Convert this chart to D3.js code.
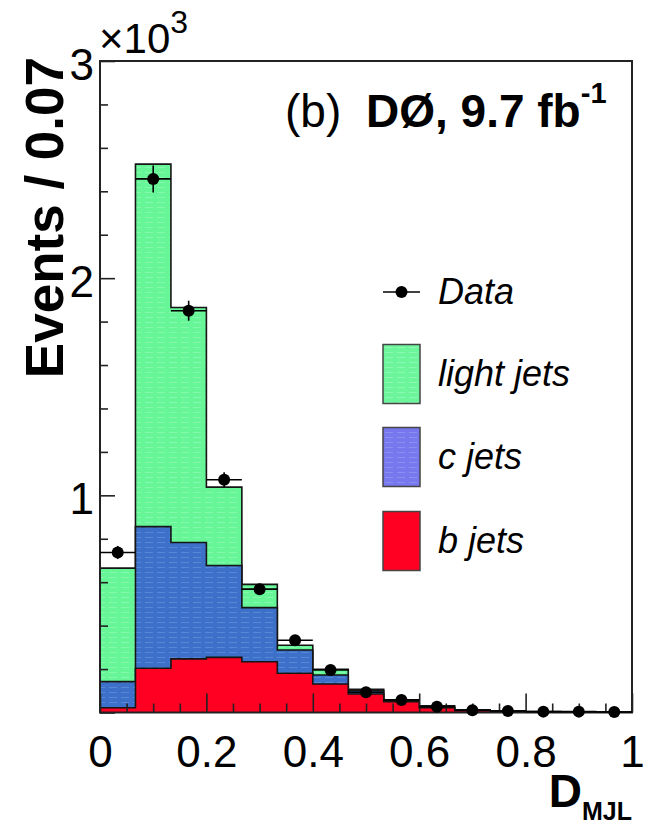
<!DOCTYPE html>
<html>
<head>
<meta charset="utf-8">
<script src="https://cdn.jsdelivr.net/npm/d3@7"></script>
<style>
  html, body { margin: 0; padding: 0; background: #fff; }
  svg { display: block; font-family: "Liberation Sans", Arial, Helvetica, sans-serif; }
</style>
</head>
<body>
<svg id="chart" width="654" height="825"></svg>
<script>
// ---- D_MJL distribution: 15 bins on [0, 1] ----
const nBins = 15;
const xRange = [0, 1];

// Observed events per bin
const dataCounts = [737, 2457, 1850, 1072, 568, 333, 196, 93, 58, 27, 10, 7, 4, 4, 2];
const dataErrors = [30, 62, 46, 34, 25, 19, 14, 10, 8, 5, 3, 3, 2, 2, 2];

// Simulated flavour components (events per bin)
const bJets     = [22, 204, 247, 254, 234, 181, 131, 85, 50, 22, 10, 5, 2, 1, 1];
const cJets     = [120, 652, 536, 423, 249, 107, 42, 15, 5, 3, 1, 0, 0, 0, 0];
const lightJets = [523, 1669, 1082, 361, 107, 22, 26, 7, 3, 6, 2, 2, 2, 2, 1];

// Axis ticks
const xMajorTicks = [0, 0.2, 0.4, 0.6, 0.8, 1];
const xTickLabels = ["0", "0.2", "0.4", "0.6", "0.8", "1"];
const yMajorTicks = [0, 1000, 2000, 3000];
const yTickLabels = ["", "1", "2", "3"];

const legendLabels = ["Data", "light jets", "c jets", "b jets"];

// ---- layout ----
const plot = { left: 100, right: 632, top: 61, bottom: 712.5 };

const svg = d3.select("#chart");
const x = d3.scaleLinear().domain(xRange).range([plot.left, plot.right]);
const y = d3.scaleLinear().domain([0, 3000]).range([plot.bottom, plot.top]);

const edges = d3.range(nBins + 1).map(i => xRange[0] + (xRange[1] - xRange[0]) * i / nBins);

// ---- hatched-look fills ----
const defs = svg.append("defs");
function addPattern(id, base, dash) {
  const p = defs.append("pattern").attr("id", id)
    .attr("patternUnits", "userSpaceOnUse").attr("width", 12).attr("height", 5);
  p.append("rect").attr("width", 12).attr("height", 5).attr("fill", base);
  p.append("line").attr("x1", 1).attr("x2", 9).attr("y1", 2.5).attr("y2", 2.5)
    .attr("stroke", dash).attr("stroke-width", 1).attr("opacity", 0.55);
}
addPattern("fillLight", "#66f597", "#9dfcc0");
addPattern("fillC", "#3d71c9", "#6c98e0");
addPattern("fillB", "#ff0022", "#ff0022");
addPattern("legLight", "#6cf59b", "#a4fcc6");
addPattern("legC", "#7878ee", "#a0a0f6");
addPattern("legB", "#ff0022", "#ff0022");

// ---- stacked simulation ----
const table = d3.range(nBins).map(i => ({ b: bJets[i], c: cJets[i], light: lightJets[i] }));
const series = d3.stack().keys(["b", "c", "light"])(table);
const fills = { b: "url(#fillB)", c: "url(#fillC)", light: "url(#fillLight)" };

const area = d3.area()
  .x(p => x(p.e)).y0(y(0)).y1(p => y(p.v))
  .curve(d3.curveStepAfter);
const outline = d3.line()
  .x(p => x(p.e)).y(p => y(p.v))
  .curve(d3.curveStepAfter);

const stackG = svg.append("g");
// cumulative histograms drawn from the largest down
series.slice().reverse().forEach(s => {
  const tops = s.map(d => d[1]);
  const pts = tops.map((v, i) => ({ e: edges[i], v }));
  pts.push({ e: edges[nBins], v: tops[nBins - 1] });
  stackG.append("path").attr("d", area(pts)).attr("fill", fills[s.key]);
  const linePts = [{ e: edges[0], v: 0 }].concat(pts, [{ e: edges[nBins], v: 0 }]);
  stackG.append("path").attr("d", outline(linePts))
    .attr("fill", "none").attr("stroke", "#151515").attr("stroke-width", 1.6);
});

// ---- axes ----
const xMinor = d3.range(0, 21).map(i => i * 0.05).filter(v => !xMajorTicks.some(m => Math.abs(m - v) < 1e-9));
const yMinor = d3.range(0, 16).map(i => i * 200).filter(v => v % 1000 !== 0);

const axX = svg.append("g").attr("transform", `translate(0,${plot.bottom})`)
  .call(d3.axisBottom(x).tickValues(xMajorTicks).tickSize(-19).tickPadding(23)
    .tickFormat((d, i) => xTickLabels[i]));
axX.append("g").call(d3.axisBottom(x).tickValues(xMinor).tickSize(-9).tickFormat(""));

const axY = svg.append("g").attr("transform", `translate(${plot.left},0)`)
  .call(d3.axisLeft(y).tickValues(yMajorTicks).tickSize(-15).tickPadding(6)
    .tickFormat((d, i) => yTickLabels[i]));
axY.append("g").call(d3.axisLeft(y).tickValues(yMinor).tickSize(-8).tickFormat(""));

svg.selectAll(".domain").remove();
svg.selectAll(".tick line").attr("stroke", "#222").attr("stroke-width", 1.6);
axX.selectAll("text").attr("font-size", 44).attr("fill", "#000").attr("dy", "0.71em");
axY.selectAll("text").attr("font-size", 44).attr("fill", "#000").attr("dy", "0.42em");

// frame
svg.append("rect")
  .attr("x", plot.left).attr("y", plot.top)
  .attr("width", plot.right - plot.left).attr("height", plot.bottom - plot.top)
  .attr("fill", "none").attr("stroke", "#222").attr("stroke-width", 2);

// ---- data points ----
const dataG = svg.append("g");
dataCounts.forEach((v, i) => {
  const cx = x((edges[i] + edges[i + 1]) / 2);
  dataG.append("line")
    .attr("x1", x(edges[i])).attr("x2", x(edges[i + 1]))
    .attr("y1", y(v)).attr("y2", y(v))
    .attr("stroke", "#000").attr("stroke-width", 1.6);
  dataG.append("line")
    .attr("x1", cx).attr("x2", cx)
    .attr("y1", y(v - dataErrors[i])).attr("y2", y(v + dataErrors[i]))
    .attr("stroke", "#000").attr("stroke-width", 1.6);
  dataG.append("circle").attr("cx", cx).attr("cy", y(v)).attr("r", 6).attr("fill", "#000");
});

// ---- exponent on y axis ----
const expT = svg.append("text").attr("x", 99).attr("y", 53).attr("font-size", 42).attr("fill", "#000");
expT.append("tspan").text("\u00d710");
expT.append("tspan").attr("font-size", 32).attr("dy", -20).text("3");

// ---- axis titles ----
svg.append("text")
  .attr("transform", `translate(63,57) rotate(-90)`)
  .attr("text-anchor", "end").attr("font-size", 53).attr("font-weight", "bold")
  .attr("fill", "#000").text("Events / 0.07");

const xt = svg.append("text").attr("x", 632).attr("y", 807)
  .attr("text-anchor", "end").attr("font-weight", "bold").attr("fill", "#000");
xt.append("tspan").attr("font-size", 46).text("D");
xt.append("tspan").attr("font-size", 25).attr("dy", 13).text("MJL");

// ---- experiment label ----
svg.append("text").attr("x", 285).attr("y", 127).attr("font-size", 46).attr("fill", "#000").text("(b)");
const lab = svg.append("text").attr("x", 366).attr("y", 127)
  .attr("font-size", 46).attr("font-weight", "bold").attr("fill", "#000");
lab.append("tspan").text("D\u00d8, 9.7 fb");
lab.append("tspan").attr("font-size", 29).attr("dy", -24).text("-1");

// ---- legend ----
const leg = svg.append("g");
const legX = 383, legBoxW = 37, legTextX = 438;
const legRows = [292, 374, 457, 541];
// Data entry
leg.append("line").attr("x1", legX).attr("x2", legX + legBoxW)
  .attr("y1", legRows[0]).attr("y2", legRows[0]).attr("stroke", "#000").attr("stroke-width", 1.6);
leg.append("circle").attr("cx", legX + legBoxW / 2).attr("cy", legRows[0]).attr("r", 6).attr("fill", "#000");
const legFills = [null, "url(#legLight)", "url(#legC)", "url(#legB)"];
legendLabels.forEach((lbl, i) => {
  if (i > 0) {
    leg.append("rect").attr("x", legX).attr("y", legRows[i] - 29.5)
      .attr("width", legBoxW).attr("height", 59)
      .attr("fill", legFills[i]).attr("stroke", "#444").attr("stroke-width", 1.5);
  }
  leg.append("text").attr("x", legTextX).attr("y", legRows[i] + 12)
    .attr("font-size", 36).attr("font-style", "italic").attr("fill", "#000").text(lbl);
});
</script>
</body>
</html>
